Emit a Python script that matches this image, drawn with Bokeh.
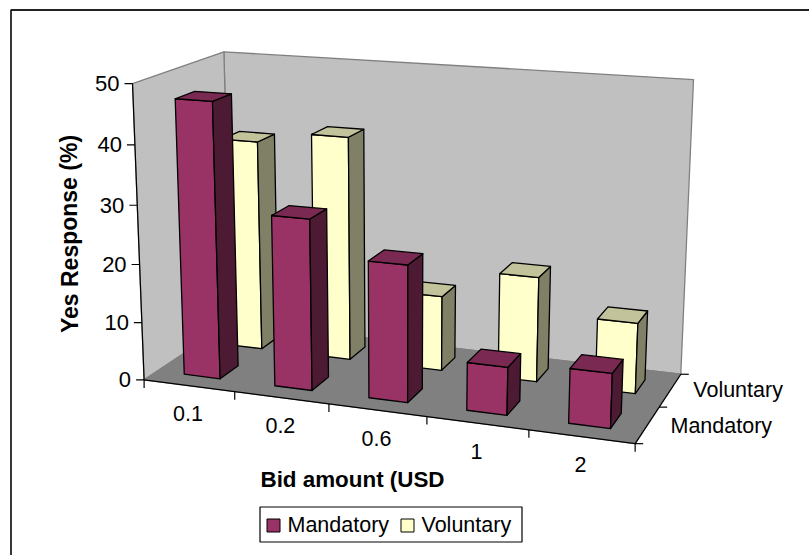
import numpy as np
from bokeh.core.properties import value
from bokeh.embed import file_html
from bokeh.plotting import figure
from bokeh.resources import INLINE

# Chart data
categories = ["0.1", "0.2", "0.6", "1", "2"]
mandatory = [47, 29, 23, 8, 9]
voluntary = [37, 39, 13, 18, 12]
series_names = ["Mandatory", "Voluntary"]
y_ticks = [0, 10, 20, 30, 40, 50]

WALL = "#C0C0C0"
FLOOR = "#808080"
EDGE = "#808080"
MANDATORY_FACES = ("#993366", "#4D1A33", "#7A2952")
VOLUNTARY_FACES = ("#FFFFCC", "#808066", "#C2C29B")
FONT = value("Liberation Sans")

# Perspective camera: solve a 3x4 projection from known box points (DLT)
# Box coordinates: (category position, series depth, axis value)
NCAT, NSER, VMAX = len(categories), len(series_names), y_ticks[-1]
anchors = [
    ((0, 0, 0), (143, 379)),
    ((NCAT, 0, 0), (635, 443)),
    ((NCAT, NSER, 0), (680, 374)),
    ((0, NSER, 0), (231, 322)),
    ((0, 0, VMAX), (132, 83)),
    ((NCAT, NSER, VMAX), (693, 79)),
    ((0, NSER, VMAX), (223, 51)),
    ((0, 0, 10), (141, 322)),
    ((0, 0, 20), (139, 264)),
    ((0, 0, 30), (137, 205)),
    ((0, 0, 40), (135, 145)),
]
rows = []
for (X, Y, Z), (sx, sy) in anchors:
    rows.append([X, Y, Z, 1, 0, 0, 0, 0, -sx * X, -sx * Y, -sx * Z, -sx])
    rows.append([0, 0, 0, 0, X, Y, Z, 1, -sy * X, -sy * Y, -sy * Z, -sy])
CAMERA = np.linalg.svd(np.array(rows, dtype=float))[2][-1].reshape(3, 4)


def project(points):
    pts = np.column_stack([np.array(points, dtype=float), np.ones(len(points))])
    h = pts @ CAMERA.T
    return (h[:, 0] / h[:, 2]).tolist(), (h[:, 1] / h[:, 2]).tolist()


p = figure(width=809, height=555, x_range=(0, 809), y_range=(555, 0),
           output_backend="svg", toolbar_location=None, min_border=0)
p.axis.visible = False
p.grid.visible = False
p.outline_line_color = None
p.background_fill_color = "white"


def face(points, fill, line="black", width=1.3):
    xs, ys = project(points)
    p.patch(xs, ys, fill_color=fill, line_color=line, line_width=width, line_join="round")


def seg(a, b, color="black", width=1.2):
    xs, ys = project([a, b])
    p.line(xs, ys, line_color=color, line_width=width)


# Chart frame: top and left rules running off the page
p.line([10.5, 10.5, 809], [555, 9.5, 9.5], line_color="#222222", line_width=1.8)

# Walls and floor
face([(0, NSER, 0), (NCAT, NSER, 0), (NCAT, NSER, VMAX), (0, NSER, VMAX)], WALL, EDGE)
face([(0, 0, 0), (0, NSER, 0), (0, NSER, VMAX), (0, 0, VMAX)], WALL, EDGE)
face([(0, 0, 0), (NCAT, 0, 0), (NCAT, NSER, 0), (0, NSER, 0)], FLOOR, FLOOR)

# Axis lines
seg((0, 0, 0), (0, 0, VMAX))
seg((0, 0, 0), (NCAT, 0, 0))
seg((NCAT, 0, 0), (NCAT, NSER, 0))

# Value axis ticks and labels
for v in y_ticks:
    x, y = project([(0, 0, v)])
    p.line([x[0] - 8, x[0]], [y[0], y[0]], line_color="black", line_width=1.2)
    p.text([x[0] - 13], [y[0]], text=[str(v)], text_font=FONT, text_font_size="22px",
           text_align="right", text_baseline="middle", text_color="black")

# Category axis ticks and labels
for i in range(NCAT + 1):
    x, y = project([(i, 0, 0)])
    p.line([x[0], x[0]], [y[0], y[0] + 8], line_color="black", line_width=1.2)
for i, c in enumerate(categories):
    x, y = project([(i + 0.5, 0, 0)])
    p.text([x[0] - 1], [y[0] + 28], text=[c], text_font=FONT, text_font_size="21.5px",
           text_align="center", text_baseline="middle", text_color="black")

# Series axis ticks and labels
for j in range(NSER + 1):
    x, y = project([(NCAT, j, 0)])
    p.line([x[0], x[0] + 8], [y[0], y[0]], line_color="black", line_width=1.2)
for j, name in enumerate(series_names):
    x, y = project([(NCAT, j + 0.5, 0)])
    p.text([x[0] + 23], [y[0] + 1 - j], text=[name], text_font=FONT, text_font_size="21.5px",
           text_align="left", text_baseline="middle", text_color="black")

# Axis titles
p.text([69], [233.5], text=["Yes Response (%)"], text_font=FONT, text_font_size="23px",
       text_font_style="bold", text_align="center", text_baseline="middle", angle=[np.pi / 2])
p.text([352], [479], text=["Bid amount (USD"], text_font=FONT, text_font_size="22.4px",
       text_font_style="bold", text_align="center", text_baseline="middle")

# Bars, back row first
BAR_W, BAR_D = 0.40, 0.42
for j, (vals, faces) in reversed(list(enumerate([(mandatory, MANDATORY_FACES), (voluntary, VOLUNTARY_FACES)]))):
    d0 = j + (1 - BAR_D) / 2
    d1 = d0 + BAR_D
    for i, v in enumerate(vals):
        u0 = i + (1 - BAR_W) / 2
        u1 = u0 + BAR_W
        face([(u0, d0, 0), (u1, d0, 0), (u1, d0, v), (u0, d0, v)], faces[0])
        face([(u1, d0, 0), (u1, d1, 0), (u1, d1, v), (u1, d0, v)], faces[1])
        face([(u0, d0, v), (u1, d0, v), (u1, d1, v), (u0, d1, v)], faces[2])

# Legend
p.quad(left=[259.5], right=[521.5], top=[506.5], bottom=[541.5], fill_color="white",
       line_color="black", line_width=1.2)
for name, faces, sx, tx in zip(series_names, [MANDATORY_FACES, VOLUNTARY_FACES], [266.5, 400.5], [287, 421]):
    p.quad(left=[sx], right=[sx + 13], top=[518.5], bottom=[531.5], fill_color=faces[0],
           line_color="black", line_width=1)
    p.text([tx], [524], text=[name], text_font=FONT, text_font_size="21.5px",
           text_align="left", text_baseline="middle", text_color="black")

open("out.html", "w").write(file_html(p, INLINE))
